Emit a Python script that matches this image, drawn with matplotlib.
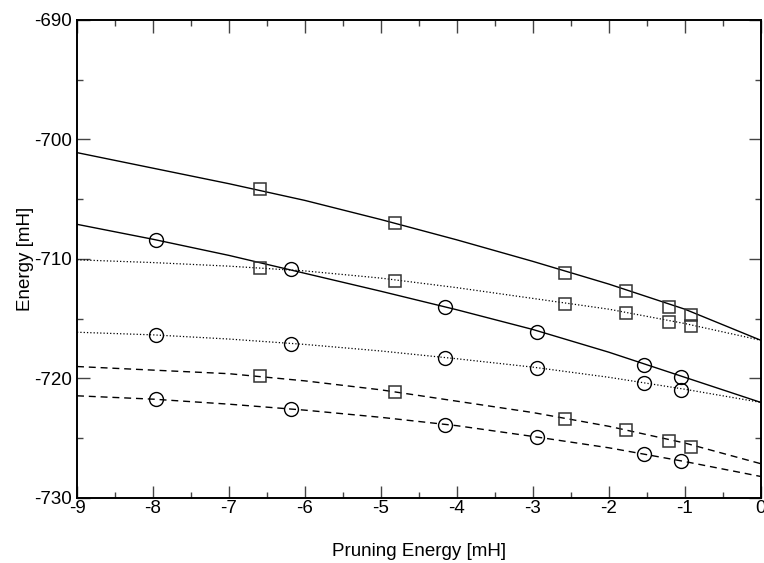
import numpy as np
import matplotlib.pyplot as plt
from matplotlib.ticker import MultipleLocator

plt.rcParams['font.family'] = ['Liberation Sans', 'DejaVu Sans']
plt.rcParams['axes.unicode_minus'] = False

# measured points
sq_x = [-6.59, -4.81, -2.58, -1.77, -1.21, -0.92]
ci_x = [-7.96, -6.18, -4.15, -2.95, -1.54, -1.05]

sq_solid = [-704.18, -707.03, -711.16, -712.70, -714.04, -714.71]
sq_dotted = [-710.74, -711.83, -713.73, -714.48, -715.24, -715.63]
sq_dashed = [-719.76, -721.13, -723.36, -724.34, -725.26, -725.76]

ci_solid = [-708.37, -710.88, -714.06, -716.13, -718.84, -719.84]
ci_dotted = [-716.35, -717.08, -718.25, -719.09, -720.38, -720.93]
ci_dashed = [-721.74, -722.58, -723.86, -724.90, -726.29, -726.93]

# fit curves at integer pruning energies
fit_x = [-9, -8, -7, -6, -5, -4, -3, -2, -1, 0]
fit_sq_solid = [-701.1, -702.4, -703.7, -705.1, -706.7, -708.4, -710.2, -712.1, -714.2, -716.8]
fit_ci_solid = [-707.1, -708.35, -709.7, -711.2, -712.7, -714.25, -715.9, -717.8, -719.9, -722.0]
fit_sq_dotted = [-710.07, -710.3, -710.6, -711.0, -711.6, -712.4, -713.3, -714.2, -715.4, -716.8]
fit_ci_dotted = [-716.13, -716.35, -716.7, -717.15, -717.7, -718.35, -719.05, -719.9, -720.9, -722.0]
fit_sq_dashed = [-719.0, -719.3, -719.6, -720.2, -720.95, -721.9, -722.85, -724.0, -725.4, -727.13]
fit_ci_dashed = [-721.45, -721.73, -722.15, -722.65, -723.25, -723.95, -724.85, -725.8, -726.95, -728.2]

fig = plt.figure(figsize=(7.64, 5.63), dpi=100)
ax = fig.add_axes([0.1008, 0.1155, 0.8949, 0.849])

ax.plot(fit_x, fit_sq_solid, '-', color='black', lw=1)
ax.plot(fit_x, fit_ci_solid, '-', color='black', lw=1)
ax.plot(fit_x, fit_sq_dotted, ':', color='black', lw=0.9)
ax.plot(fit_x, fit_ci_dotted, ':', color='black', lw=0.9)
ax.plot(fit_x, fit_sq_dashed, '--', color='black', lw=1, dashes=(5, 3.5))
ax.plot(fit_x, fit_ci_dashed, '--', color='black', lw=1, dashes=(5, 3.5))

for ys in [sq_solid, sq_dotted, sq_dashed]:
    ax.plot(sq_x, ys, 's', ms=8.5, mfc='none', mec='#333333', mew=1.1)
for ys in [ci_solid, ci_dotted, ci_dashed]:
    ax.plot(ci_x, ys, 'o', ms=10, mfc='none', mec='black', mew=1)

ax.set_xlim(-9, 0)
ax.set_ylim(-730, -690)
ax.xaxis.set_major_locator(MultipleLocator(1))
ax.xaxis.set_minor_locator(MultipleLocator(0.5))
ax.yaxis.set_major_locator(MultipleLocator(10))
ax.yaxis.set_minor_locator(MultipleLocator(5))
ax.tick_params(which='both', direction='in', top=True, right=True, color='#444444', labelsize=13.5)
ax.tick_params(axis='x', pad=1.5)
ax.tick_params(axis='y', pad=3.5)
ax.tick_params(which='major', length=9, width=1)
ax.tick_params(which='minor', length=4.5, width=1)
for s in ax.spines.values():
    s.set_linewidth(1.4)

ax.set_xlabel("Pruning Energy [mH]", fontsize=13.5, labelpad=19)
ax.set_ylabel("Energy [mH]", fontsize=13.5, labelpad=0)

fig.savefig("out.png", dpi=100)
